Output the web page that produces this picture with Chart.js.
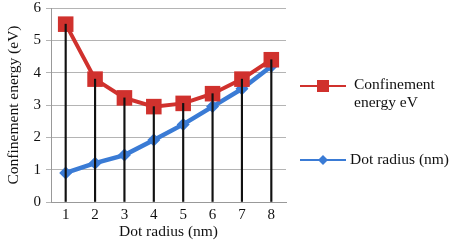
<!DOCTYPE html>
<html>
<head>
<meta charset="utf-8">
<script src="https://cdn.jsdelivr.net/npm/chart.js@4"></script>
<style>
  html, body { margin: 0; padding: 0; background: #fff; }
  #wrap { position: relative; width: 450px; height: 240px; }
  #legend { position: absolute; left: 298px; top: 0; font-family: "Liberation Serif", serif; font-size: 15.5px; color: #111; }
  .item { position: absolute; display: flex; align-items: flex-start; white-space: nowrap; }
  .item canvas { display: block; }
</style>
</head>
<body>
<div id="wrap">
  <canvas id="chart" width="450" height="240"></canvas>
  <div id="legend">
    <div class="item" style="left:0; top:76px;">
      <canvas id="symRed" width="50" height="20"></canvas>
      <div style="margin-left:6px; line-height:18px; margin-top:-1px;">Confinement<br>energy eV</div>
    </div>
    <div class="item" style="left:0; top:150px;">
      <canvas id="symBlue" width="50" height="20"></canvas>
      <div style="margin-left:2px; line-height:18px; margin-top:0px;">Dot radius (nm)</div>
    </div>
  </div>
</div>
<script>
// values
const radiusLabels = ["1", "2", "3", "4", "5", "6", "7", "8"];
const confinementEnergy = [5.5, 3.8, 3.22, 2.95, 3.05, 3.35, 3.8, 4.4];
const dotRadius = [0.9, 1.2, 1.45, 1.92, 2.4, 2.95, 3.5, 4.2];
const yTicks = [0, 1, 2, 3, 4, 5, 6];

const RED = "#d0312d";
const BLUE = "#3a7bd5";
const serif = "'Liberation Serif', 'Times New Roman', serif";

new Chart(document.getElementById("chart"), {
    type: "line",
    data: {
        labels: radiusLabels,
        datasets: [
            {
                // drop lines from the energy points down to the axis
                type: "bar",
                data: confinementEnergy,
                backgroundColor: "#111",
                barThickness: 1.5,
                order: 0
            },
            {
                label: "Confinement energy eV",
                data: confinementEnergy,
                borderColor: RED,
                backgroundColor: RED,
                borderWidth: 4,
                pointStyle: "rect",
                pointRadius: 11,
                pointBorderWidth: 0,
                tension: 0,
                order: 1
            },
            {
                label: "Dot radius (nm)",
                data: dotRadius,
                borderColor: BLUE,
                backgroundColor: BLUE,
                borderWidth: 4.5,
                pointStyle: "rectRot",
                pointRadius: 6.5,
                pointBorderWidth: 0,
                tension: 0,
                order: 2
            }
        ]
    },
    options: {
        responsive: false,
        animation: false,
        layout: { autoPadding: false, padding: { top: 8, right: 164, left: 0, bottom: 0 } },
        plugins: {
            legend: { display: false },
            tooltip: { enabled: false }
        },
        scales: {
            x: {
                offset: true,
                grid: { display: false, drawTicks: false },
                border: { color: "#999", width: 1 },
                ticks: { color: "#111", font: { family: serif, size: 15 }, padding: 4 },
                title: { display: true, text: "Dot radius (nm)", color: "#111", font: { family: serif, size: 15.5, lineHeight: 1 }, padding: 0 },
                afterFit: s => { s.height = 38; }
            },
            y: {
                min: 0,
                max: 6,
                afterBuildTicks: s => { s.ticks = yTicks.map(v => ({ value: v })); },
                grid: { color: "#b4b4b4", lineWidth: 1, tickLength: 5 },
                border: { color: "#999", width: 1 },
                ticks: { color: "#111", font: { family: serif, size: 15 }, padding: 5 },
                title: { display: true, text: "Confinement energy (eV)", color: "#111", font: { family: serif, size: 15.5, lineHeight: 1 }, padding: { top: 6, bottom: 0 } },
                afterFit: s => { s.width = 51; s.paddingTop = 0; s.paddingBottom = 0; }
            }
        }
    }
});

// legend symbols
function drawSym(id, color, shape) {
    const ctx = document.getElementById(id).getContext("2d");
    ctx.strokeStyle = color;
    ctx.fillStyle = color;
    ctx.lineWidth = 2;
    ctx.beginPath();
    ctx.moveTo(2, 10);
    ctx.lineTo(48, 10);
    ctx.stroke();
    ctx.beginPath();
    if (shape === "rect") {
        ctx.rect(19, 4, 12, 12);
    } else {
        ctx.moveTo(25, 5); ctx.lineTo(30, 10); ctx.lineTo(25, 15); ctx.lineTo(20, 10);
        ctx.closePath();
    }
    ctx.fill();
}
drawSym("symRed", RED, "rect");
drawSym("symBlue", BLUE, "diamond");
</script>
</body>
</html>
